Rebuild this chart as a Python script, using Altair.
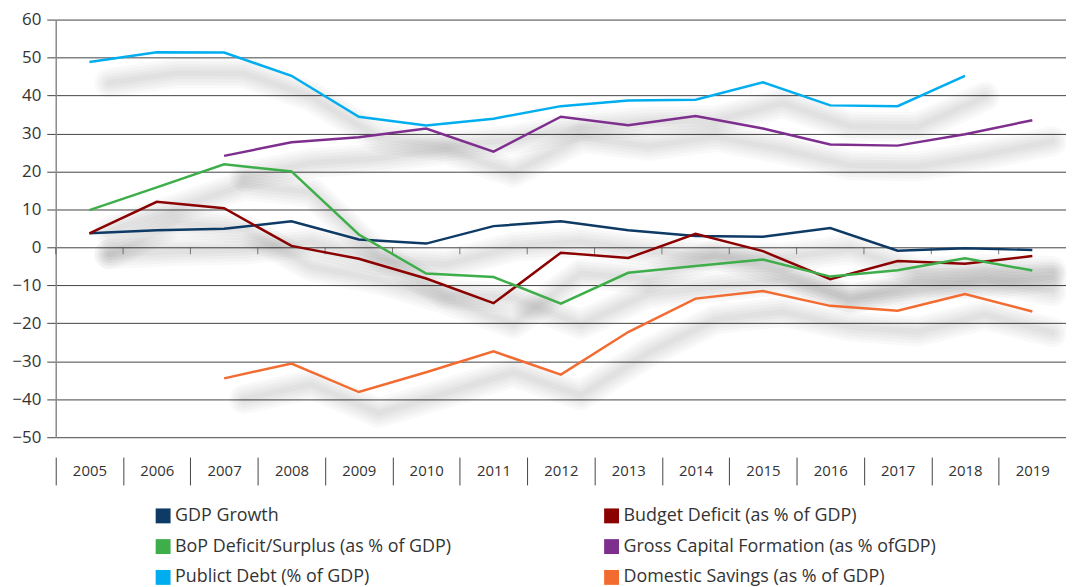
import altair as alt
import pandas as pd

years = [str(y) for y in range(2005, 2020)]

series_names = [
    "GDP Growth",
    "Budget Deficit (as % of GDP)",
    "BoP Deficit/Surplus (as % of GDP)",
    "Gross Capital Formation (as % ofGDP)",
    "Publict Debt (% of GDP)",
    "Domestic Savings (as % of GDP)",
]
series_colors = ["#0E3A66", "#8B0000", "#3DAE49", "#7E2F8E", "#00AEEF", "#F26B30"]

gdp_growth = [3.7, 4.5, 4.9, 6.9, 2.1, 1.0, 5.6, 6.9, 4.5, 3.0, 2.8, 5.1, -0.9, -0.2, -0.7]
budget_deficit = [3.7, 12.0, 10.3, 0.4, -3.0, -8.2, -14.7, -1.4, -2.8, 3.6, -1.0, -8.4, -3.6, -4.3, -2.3]
bop_balance = [9.8, 15.8, 21.9, 20.0, 3.4, -6.9, -7.8, -14.8, -6.7, -4.9, -3.2, -7.7, -6.0, -2.9, -6.1]
capital_formation = [None, None, 24.1, 27.7, 29.0, 31.3, 25.2, 34.4, 32.2, 34.6, 31.3, 27.1, 26.8, 29.8, 33.5]
public_debt = [48.8, 51.4, 51.3, 45.2, 34.4, 32.1, 33.9, 37.2, 38.7, 38.9, 43.5, 37.4, 37.2, 45.2, None]
domestic_savings = [None, None, -34.5, -30.6, -38.1, -32.9, -27.4, -33.5, -22.3, -13.5, -11.5, -15.4, -16.7, -12.3, -16.9]

y_ticks = list(range(-50, 61, 10))

all_series = [gdp_growth, budget_deficit, bop_balance, capital_formation, public_debt, domestic_savings]
rows = []
for name, vals in zip(series_names, all_series):
    for yr, v in zip(years, vals):
        if v is not None:
            rows.append({"year": yr, "series": name, "value": v})
df = pd.DataFrame(rows)

FONT = "Open Sans"

x_scale = alt.Scale(type="band", domain=years, paddingInner=0, paddingOuter=0)
y_scale = alt.Scale(domain=[-50, 60], nice=False, zero=False)

x_axis = alt.Axis(
    title=None,
    orient="bottom",
    offset=20,
    domain=False,
    grid=False,
    ticks=True,
    tickBand="extent",
    tickSize=28,
    tickColor="#444444",
    labelPadding=-21,
    labelFontSize=15,
    labelColor="#333333",
    labelFont=FONT,
    labelAngle=0,
    labelOverlap=False,
)
y_axis = alt.Axis(
    title=None,
    values=y_ticks,
    tickCount=len(y_ticks) + 4,
    grid=True,
    gridColor="#444444",
    gridWidth=1,
    domain=True,
    domainColor="#8a8a8a",
    domainWidth=1.5,
    ticks=True,
    tickSize=9,
    tickColor="#444444",
    labelFontSize=17,
    labelColor="#333333",
    labelFont=FONT,
    labelPadding=6,
    labelOverlap=False,
    labelFlush=False,
)

x_enc = alt.X("year:N", scale=x_scale, bandPosition=0.5, axis=x_axis)
y_enc = alt.Y("value:Q", scale=y_scale, axis=y_axis)

color_enc = alt.Color(
    "series:N",
    scale=alt.Scale(domain=series_names, range=series_colors),
    legend=alt.Legend(
        title=None,
        orient="none",
        legendX=99,
        legendY=490,
        columns=2,
        direction="horizontal",
        symbolType="square",
        symbolSize=56,
        symbolStrokeWidth=7.5,
        labelFontSize=18,
        labelFont=FONT,
        labelColor="#333333",
        labelLimit=500,
        labelOffset=3,
        rowPadding=-7,
        columnPadding=142,
    ),
    sort=series_names,
)

base = alt.Chart(df)

shadow_layers = []
for w in [30, 24, 18, 12, 6]:
    shadow_layers.append(
        base.mark_line(
            strokeWidth=w, opacity=0.024, color="#000000", xOffset=20, yOffset=21,
            strokeCap="round", strokeJoin="round",
        ).encode(x=x_enc, y=y_enc, detail="series:N")
    )

zero_ticks = alt.Chart(pd.DataFrame({"year": years})).mark_tick(
    orient="vertical", size=7, thickness=1, color="#444444", yOffset=3.5
).encode(
    x=alt.X("year:N", scale=x_scale, bandPosition=0, axis=x_axis),
    y=alt.Y(datum=0, scale=y_scale, axis=y_axis),
)

lines = base.mark_line(strokeWidth=2.5).encode(
    x=x_enc,
    y=y_enc,
    color=color_enc,
)

chart = (
    alt.layer(*shadow_layers, zero_ticks, lines)
    .properties(
        width=1016,
        height=420,
        padding={"left": 48, "top": 10, "right": 0, "bottom": 149},
        autosize=alt.AutoSizeParams(type="none"),
    )
    .configure_view(strokeWidth=0)
)

chart.save("out.html", embed_options={"renderer": "svg", "actions": False})
